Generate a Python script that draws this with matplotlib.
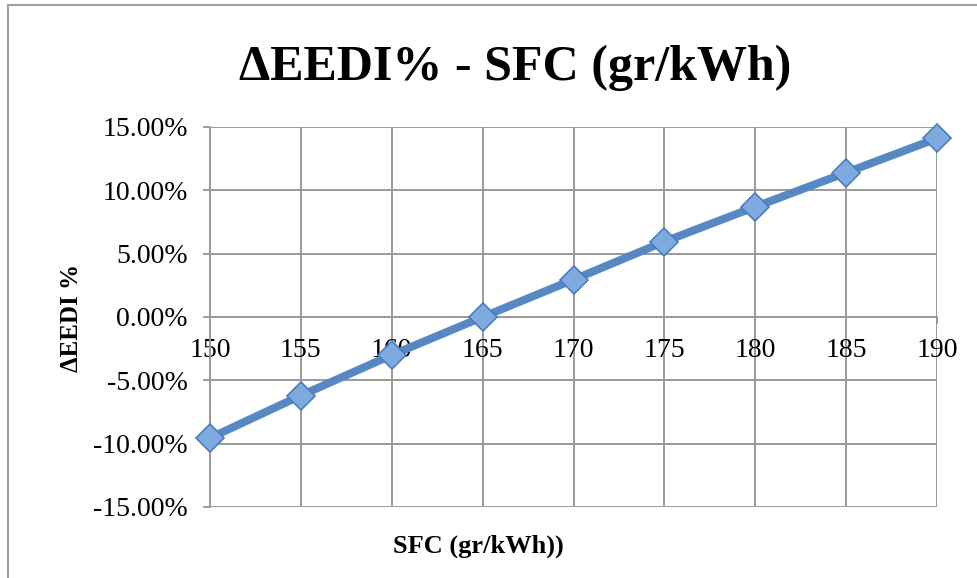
import matplotlib.pyplot as plt
from matplotlib.lines import Line2D
from matplotlib.ticker import FuncFormatter

# values
sfc = [150, 155, 160, 165, 170, 175, 180, 185, 190]
d_eedi = [-9.55, -6.2, -3.0, 0.0, 2.95, 5.95, 8.7, 11.4, 14.1]
y_ticks = [-15, -10, -5, 0, 5, 10, 15]

plt.rcParams['font.family'] = ['Liberation Serif', 'DejaVu Serif']

fig = plt.figure(figsize=(9.78, 5.78), dpi=100)
ax = fig.add_axes([210 / 978, 1 - 507 / 578, 727 / 978, 380 / 578])

grid_col = '#9a9a9a'
ax.set_xlim(150, 190)
ax.set_ylim(-15, 15)
ax.set_xticks(sfc)
ax.set_yticks(y_ticks)
ax.grid(True, color=grid_col, linewidth=1.4)
ax.set_axisbelow(True)

# x axis crosses at zero like Excel
for s in ['top', 'right']:
    ax.spines[s].set_visible(False)
ax.spines['bottom'].set_position(('data', 0))
ax.spines['bottom'].set_color(grid_col)
ax.spines['bottom'].set_linewidth(1.4)
ax.spines['left'].set_color(grid_col)
ax.spines['left'].set_linewidth(1.4)

ax.yaxis.set_major_formatter(FuncFormatter(lambda v, p: f'{v:.2f}%'))
ax.tick_params(axis='y', direction='out', length=5, width=1.4, color=grid_col,
               labelsize=20, pad=11)
ax.tick_params(axis='x', direction='out', length=5, width=1.4, color=grid_col,
               labelsize=20, pad=10)

ax.plot(sfc, d_eedi, color='#5689c4', linewidth=5.8, solid_capstyle='round',
        marker='D', markersize=14, markerfacecolor='#7eaae0',
        markeredgecolor='#4a7ebb', markeredgewidth=1.2, clip_on=False, zorder=3)

fig.text(515 / 978, 1 - 68 / 578, 'ΔEEDI% - SFC (gr/kWh)', ha='center',
         va='center', fontsize=36, fontweight='bold')
fig.text(72 / 978, 1 - 318 / 578, 'ΔEEDI %', rotation=90, ha='center',
         va='center', fontsize=18, fontweight='bold')
fig.text(478 / 978, 1 - 546 / 578, 'SFC (gr/kWh))', ha='center', va='center',
         fontsize=19, fontweight='bold')

# chart border (cropped on right and bottom)
fig.add_artist(Line2D([8 / 978, 8 / 978], [0, 1 - 5 / 578], color='#a0a0a0',
                      linewidth=1.5, transform=fig.transFigure))
fig.add_artist(Line2D([8 / 978, 1], [1 - 5 / 578, 1 - 5 / 578], color='#a0a0a0',
                      linewidth=1.5, transform=fig.transFigure))

fig.savefig('out.png', dpi=100)
